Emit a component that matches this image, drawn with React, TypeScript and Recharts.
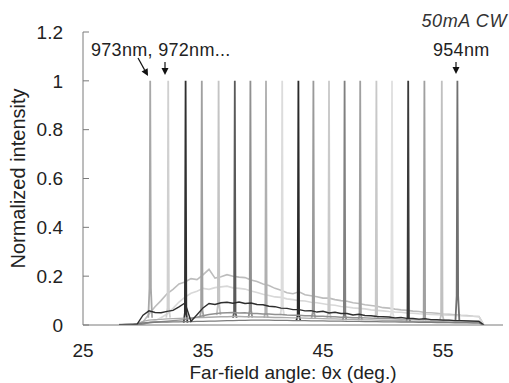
import { LineChart, Line, XAxis, YAxis, Label } from "recharts";

// far-field angle grid for the broad background profiles (deg)
const angles = [
  28, 28.5, 29, 29.5, 30, 30.5, 31, 31.5, 32, 32.5,
  33, 33.5, 34, 34.5, 35, 35.5, 36, 36.5, 37, 37.5,
  38, 38.5, 39, 39.5, 40, 40.5, 41, 41.5, 42, 42.5,
  43, 43.5, 44, 44.5, 45, 45.5, 46, 46.5, 47, 47.5,
  48, 48.5, 49, 49.5, 50, 50.5, 51, 51.5, 52, 52.5,
  53, 53.5, 54, 54.5, 55, 55.5, 56, 56.5, 57, 57.5,
  58, 58.4,
];

const bgUpper = [
  0, 0, 0, 0.003, 0.012, 0.045, 0.075, 0.1, 0.128, 0.146,
  0.168, 0.176, 0.19, 0.186, 0.205, 0.228, 0.192, 0.198, 0.206, 0.2,
  0.196, 0.194, 0.184, 0.178, 0.168, 0.162, 0.15, 0.142, 0.132, 0.128,
  0.136, 0.124, 0.12, 0.116, 0.11, 0.11, 0.104, 0.1, 0.097, 0.091,
  0.088, 0.083, 0.08, 0.077, 0.071, 0.069, 0.065, 0.062, 0.06, 0.057,
  0.055, 0.051, 0.05, 0.048, 0.045, 0.044, 0.042, 0.04, 0.039, 0.036,
  0.035, 0,
];

const bgLight = [
  0, 0, 0, 0, 0.004, 0.01, 0.018, 0.03, 0.045, 0.068,
  0.094, 0.114, 0.13, 0.138, 0.15, 0.146, 0.153, 0.156, 0.159, 0.152,
  0.15, 0.147, 0.139, 0.133, 0.126, 0.121, 0.115, 0.113, 0.107, 0.104,
  0.1, 0.098, 0.093, 0.091, 0.087, 0.083, 0.081, 0.076, 0.074, 0.07,
  0.068, 0.066, 0.062, 0.06, 0.058, 0.055, 0.053, 0.052, 0.049, 0.048,
  0.046, 0.045, 0.043, 0.042, 0.041, 0.04, 0.039, 0.038, 0.037, 0.036,
  0.034, 0,
];

const bgDark = [
  0, 0, 0, 0.003, 0.04, 0.058, 0.051, 0.05, 0.056, 0.06,
  0.074, 0.09, 0.015, 0.042, 0.07, 0.088, 0.084, 0.091, 0.093, 0.089,
  0.094, 0.088, 0.09, 0.084, 0.083, 0.077, 0.075, 0.069, 0.068, 0.063,
  0.063, 0.058, 0.059, 0.053, 0.056, 0.049, 0.052, 0.047, 0.047, 0.041,
  0.044, 0.039, 0.038, 0.035, 0.034, 0.033, 0.029, 0.031, 0.027, 0.027,
  0.024, 0.026, 0.022, 0.022, 0.02, 0.02, 0.018, 0.018, 0.017, 0.016,
  0.015, 0,
];

const bgMid = [
  0, 0, 0, 0, 0.004, 0.009, 0.012, 0.014, 0.016, 0.018,
  0.02, 0.022, 0.027, 0.032, 0.038, 0.043, 0.046, 0.049, 0.05, 0.051,
  0.049, 0.05, 0.047, 0.047, 0.045, 0.045, 0.043, 0.043, 0.041, 0.04,
  0.04, 0.038, 0.038, 0.036, 0.036, 0.034, 0.034, 0.032, 0.032, 0.03,
  0.03, 0.029, 0.028, 0.027, 0.026, 0.026, 0.025, 0.024, 0.024, 0.023,
  0.022, 0.022, 0.021, 0.02, 0.02, 0.019, 0.018, 0.018, 0.017, 0.016,
  0.016, 0,
];

const bgLow = [
  0.002, 0.003, 0.004, 0.005, 0.015, 0.02, 0.022, 0.023, 0.025, 0.026,
  0.027, 0.028, 0.029, 0.03, 0.031, 0.032, 0.033, 0.034, 0.034, 0.035,
  0.035, 0.034, 0.034, 0.033, 0.033, 0.032, 0.031, 0.031, 0.03, 0.029,
  0.029, 0.028, 0.027, 0.027, 0.026, 0.025, 0.025, 0.024, 0.023, 0.023,
  0.022, 0.021, 0.021, 0.02, 0.019, 0.019, 0.018, 0.018, 0.017, 0.016,
  0.016, 0.015, 0.015, 0.014, 0.014, 0.013, 0.013, 0.012, 0.012, 0.011,
  0.011, 0,
];

const bgFloor = [
  0, 0.002, 0.003, 0.004, 0.008, 0.01, 0.011, 0.012, 0.012, 0.013,
  0.013, 0.014, 0.014, 0.015, 0.015, 0.016, 0.016, 0.017, 0.018, 0.018,
  0.019, 0.019, 0.02, 0.02, 0.02, 0.02, 0.019, 0.019, 0.019, 0.018,
  0.018, 0.018, 0.017, 0.017, 0.017, 0.016, 0.016, 0.016, 0.015, 0.015,
  0.015, 0.014, 0.014, 0.014, 0.013, 0.013, 0.013, 0.012, 0.012, 0.012,
  0.011, 0.011, 0.011, 0.01, 0.01, 0.01, 0.009, 0.009, 0.009, 0.008,
  0.008, 0,
];

// one narrow lasing peak per wavelength, 973 nm ... 954 nm
const peakWavelengths = [
  973, 972, 971, 970, 969, 968, 967, 966, 965, 964,
  963, 962, 961, 960, 959, 958, 957, 956, 955, 954,
];
const peakAngles = [
  30.6, 32.1, 33.55, 34.9, 36.3, 37.65, 38.95, 40.25, 41.6, 42.95,
  44.2, 45.5, 46.8, 48.1, 49.45, 50.75, 52.1, 53.45, 54.9, 56.2,
];
// shoulder level at the foot of each peak
const peakShoulders = [
  0.15, 0.07, 0.05, 0.06, 0.08, 0.05, 0.06, 0.05, 0.07, 0.04,
  0.05, 0.05, 0.04, 0.04, 0.04, 0.05, 0.03, 0.03, 0.04, 0.12,
];
// background level under each peak
const peakFeet = [
  0.03, 0.03, 0.01, 0.03, 0.04, 0.03, 0.03, 0.03, 0.04, 0.02,
  0.03, 0.03, 0.02, 0.02, 0.03, 0.03, 0.015, 0.02, 0.02, 0.02,
];

const peakColors = [
  "#a8a8a8", "#d0d0d0", "#303030", "#a0a0a0", "#c4c4c4",
  "#5a5a5a", "#909090", "#b0b0b0", "#dcdcdc", "#2a2a2a",
  "#9a9a9a", "#cacaca", "#808080", "#a0a0a0", "#c8c8c8",
  "#e0e0e0", "#3a3a3a", "#a0a0a0", "#c0c0c0", "#707070",
];

const HALF_WIDTH = 0.06;
const FOOT_WIDTH = 0.16;
const FONT = "'Liberation Sans', Arial, sans-serif";
const TEXT = "#222";
const FRAME = "#7a7a7a";

const profile = (values: number[]) =>
  angles.map((x, i) => ({ x, y: values[i] }));

const peak = (i: number) => [
  { x: peakAngles[i] - FOOT_WIDTH, y: peakFeet[i] },
  { x: peakAngles[i] - HALF_WIDTH, y: peakShoulders[i] },
  { x: peakAngles[i], y: 1 },
  { x: peakAngles[i] + HALF_WIDTH, y: peakShoulders[i] },
  { x: peakAngles[i] + FOOT_WIDTH, y: peakFeet[i] },
];

const backLayers = [
  { name: "upper", values: bgUpper, color: "#bdbdbd" },
  { name: "light", values: bgLight, color: "#d8d8d8" },
];
const frontLayers = [
  { name: "low", values: bgLow, color: "#ababab" },
  { name: "mid", values: bgMid, color: "#909090" },
  { name: "floor", values: bgFloor, color: "#7c7c7c" },
  { name: "dark", values: bgDark, color: "#2e2e2e" },
];

function Arrow({ x1, y1, x2, y2 }: { x1: number; y1: number; x2: number; y2: number }) {
  const a = Math.atan2(y2 - y1, x2 - x1);
  const len = 7;
  const w = 3.5;
  const bx = x2 - len * Math.cos(a);
  const by = y2 - len * Math.sin(a);
  const px = -Math.sin(a) * w;
  const py = Math.cos(a) * w;
  return (
    <g>
      <line x1={x1} y1={y1} x2={bx} y2={by} stroke="#111" strokeWidth={1.2} />
      <polygon
        points={`${x2},${y2} ${bx + px},${by + py} ${bx - px},${by - py}`}
        fill="#111"
      />
    </g>
  );
}

export default function App() {
  return (
    <div style={{ position: "absolute", left: 0, top: 0, width: 509, height: 383, background: "#fff" }}>
      <LineChart
        width={509}
        height={383}
        margin={{ top: 32, right: 6, bottom: 18, left: 0 }}
      >
        <XAxis
          type="number"
          dataKey="x"
          domain={[25, 60]}
          ticks={[25, 35, 45, 55]}
          allowDataOverflow
          height={40}
          tickLine={false}
          tickSize={0}
          tickMargin={19}
          stroke={FRAME}
          tick={{ fill: TEXT, fontSize: 19, fontFamily: FONT }}
        >
          <Label
            value="Far-field angle: θx (deg.)"
            position="center"
            dy={27}
            style={{ fill: TEXT, fontSize: 19, fontFamily: FONT }}
          />
        </XAxis>
        <XAxis
          xAxisId="top"
          orientation="top"
          type="number"
          domain={[25, 60]}
          height={0}
          tick={false}
          tickLine={false}
          stroke={FRAME}
        />
        <YAxis
          type="number"
          domain={[0, 1.2]}
          ticks={[0, 0.2, 0.4, 0.6, 0.8, 1, 1.2]}
          allowDataOverflow
          width={83}
          tickSize={-6}
          tickMargin={26}
          stroke={FRAME}
          tick={{ fill: TEXT, fontSize: 19, fontFamily: FONT }}
        >
          <Label
            value="Normalized intensity"
            angle={-90}
            position="center"
            dx={-24}
            style={{ fill: TEXT, fontSize: 20, fontFamily: FONT, textAnchor: "middle" }}
          />
        </YAxis>
        <YAxis
          yAxisId="right"
          orientation="right"
          type="number"
          domain={[0, 1.2]}
          width={0}
          tick={false}
          tickLine={false}
          stroke={FRAME}
        />

        {backLayers.map((l) => (
          <Line
            key={l.name}
            data={profile(l.values)}
            dataKey="y"
            type="linear"
            stroke={l.color}
            strokeWidth={1.6}
            dot={false}
            activeDot={false}
            isAnimationActive={false}
          />
        ))}

        {peakWavelengths.map((nm, i) => (
          <Line
            key={nm}
            name={`${nm}nm`}
            data={peak(i)}
            dataKey="y"
            type="linear"
            stroke={peakColors[i]}
            strokeWidth={1.8}
            dot={false}
            activeDot={false}
            isAnimationActive={false}
          />
        ))}

        {frontLayers.map((l) => (
          <Line
            key={l.name}
            data={profile(l.values)}
            dataKey="y"
            type="linear"
            stroke={l.color}
            strokeWidth={1.4}
            dot={false}
            activeDot={false}
            isAnimationActive={false}
          />
        ))}
      </LineChart>

      <svg
        width={509}
        height={383}
        style={{ position: "absolute", left: 0, top: 0, pointerEvents: "none" }}
      >
        <text
          x={507}
          y={27}
          textAnchor="end"
          fontFamily={FONT}
          fontSize={18}
          fontStyle="italic"
          letterSpacing={0.6}
          fill="#333"
        >
          50mA CW
        </text>
        <text x={91} y={56} fontFamily={FONT} fontSize={18} letterSpacing={0.3} fill={TEXT}>
          973nm, 972nm...
        </text>
        <text x={433} y={56} fontFamily={FONT} fontSize={18} letterSpacing={0.3} fill={TEXT}>
          954nm
        </text>
        <Arrow x1={138} y1={58} x2={148} y2={76} />
        <Arrow x1={165} y1={62} x2={165} y2={75} />
        <Arrow x1={456} y1={62} x2={456} y2={74} />
      </svg>
    </div>
  );
}
